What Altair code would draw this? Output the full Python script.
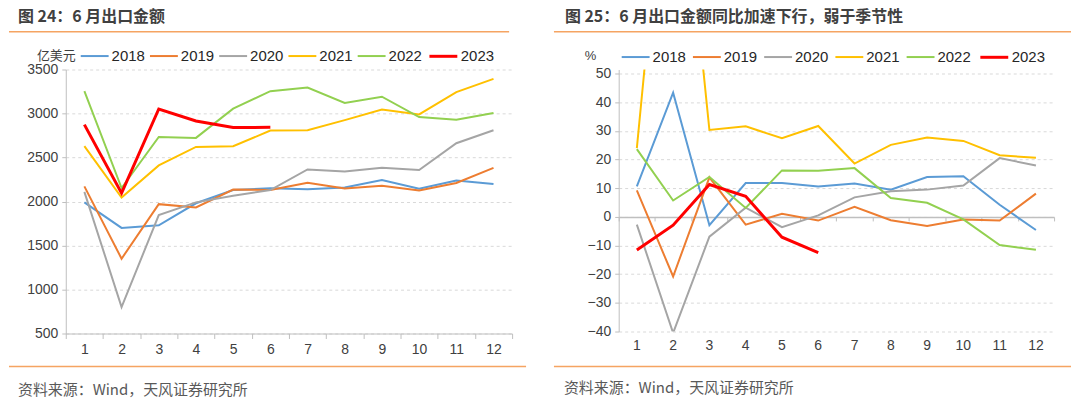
import altair as alt
import pandas as pd

months = list(range(1, 13))
years = ["2018", "2019", "2020", "2021", "2022", "2023"]
colors = ["#5B9BD5", "#ED7D31", "#A5A5A5", "#FFC000", "#92D050", "#FF0000"]
widths = [2, 2, 2, 2, 2, 3]

# 出口金额（亿美元）
amt_2018 = [1990, 1700, 1730, 1980, 2130, 2150, 2140, 2160, 2245, 2145, 2238, 2198]
amt_2019 = [2172, 1350, 1970, 1932, 2136, 2130, 2213, 2148, 2178, 2125, 2210, 2382]
amt_2020 = [2110, 800, 1845, 1990, 2065, 2130, 2364, 2341, 2383, 2357, 2662, 2809]
amt_2021 = [2630, 2045, 2410, 2620, 2628, 2806, 2810, 2925, 3044, 2990, 3243, 3394]
amt_2022 = [3254, 2153, 2734, 2723, 3055, 3254, 3296, 3119, 3191, 2960, 2930, 3005]
amt_2023 = [2874, 2095, 3051, 2915, 2840, 2843]

# 出口金额同比（%）
yoy_2018 = [10.6, 43.3, -2.9, 11.8, 11.8, 10.6, 11.6, 9.5, 13.9, 14.2, 4.2, -4.6]
yoy_2019 = [9.2, -20.8, 13.8, -2.7, 1.1, -1.3, 3.5, -1.2, -3.2, -0.9, -1.3, 8.1]
yoy_2020 = [-2.7, -40.5, -6.9, 3.2, -3.6, 0.5, 6.8, 8.9, 9.5, 10.9, 20.5, 17.9]
yoy_2021 = [24.0, 155.0, 30.3, 31.6, 27.4, 31.7, 18.6, 25.1, 27.7, 26.5, 21.5, 20.6]
yoy_2022 = [23.6, 5.7, 13.9, 3.1, 16.2, 16.1, 17.0, 6.6, 4.9, -0.9, -9.8, -11.5]
yoy_2023 = [-11.6, -2.9, 11.3, 7.2, -7.1, -12.5]

left_ticks = [500, 1000, 1500, 2000, 2500, 3000, 3500]
right_ticks = [-40, -30, -20, -10, 0, 10, 20, 30, 40, 50]

title_left = "图 24：6 月出口金额"
title_right = "图 25：6 月出口金额同比加速下行，弱于季节性"
source_text = "资料来源：Wind，天风证券研究所"


def to_long(series):
    rows = []
    for y, vals in zip(years, series):
        for m, v in zip(months, vals):
            rows.append({"month": m, "year": y, "value": v})
    return pd.DataFrame(rows)


df_amt = to_long([amt_2018, amt_2019, amt_2020, amt_2021, amt_2022, amt_2023])
df_yoy = to_long([yoy_2018, yoy_2019, yoy_2020, yoy_2021, yoy_2022, yoy_2023])

NUM_FONT = "Liberation Sans"
CJK_FONT = "Noto Sans CJK SC"
ORANGE = "#F5A462"
AXIS_GRAY = "#BFBFBF"
LABEL_COLOR = "#404040"

xscale = alt.Scale(type="band", paddingInner=0, paddingOuter=0)


def legend(lx, ly, pad):
    return alt.Legend(
        orient="none", direction="horizontal", legendX=lx, legendY=ly,
        title=None, symbolType="stroke", symbolSize=784, symbolStrokeWidth=2,
        labelFont=NUM_FONT, labelFontSize=15, labelColor="#262626",
        labelOffset=2, columnPadding=pad, padding=0,
    )


def yaxis(vals):
    return alt.Axis(
        values=vals, format="d", grid=True, gridDash=[3, 3], gridColor="#D9D9D9",
        domain=True, domainColor=AXIS_GRAY, ticks=True, tickColor=AXIS_GRAY,
        tickSize=4, labelFont=NUM_FONT, labelFontSize=14, labelColor=LABEL_COLOR,
        labelPadding=4, title=None,
    )


def text_layer(text, x, y, size, weight="normal", color=LABEL_COLOR, font=CJK_FONT):
    return alt.Chart(pd.DataFrame({"t": [text]})).mark_text(
        align="left", baseline="middle", font=font, fontSize=size,
        fontWeight=weight, color=color,
    ).encode(text="t:N", x=alt.value(x), y=alt.value(y))


def rule_layer(x1, x2, y):
    return alt.Chart(pd.DataFrame({"t": [0]})).mark_rule(
        color=ORANGE, strokeWidth=1.5
    ).encode(x=alt.value(x1), x2=alt.value(x2), y=alt.value(y))


# ---------------- left panel ----------------
LW, LH = 448, 265
left_lines = alt.Chart(df_amt).mark_line(clip=True).encode(
    x=alt.X("month:O", scale=xscale, axis=alt.Axis(
        tickBand="extent", ticks=True, tickSize=5, tickColor=AXIS_GRAY,
        domainColor=AXIS_GRAY, labelAngle=0, labelFont=NUM_FONT,
        labelFontSize=14, labelColor=LABEL_COLOR, labelPadding=4,
        title=None, grid=False)),
    y=alt.Y("value:Q", scale=alt.Scale(domain=[500, 3500], nice=False, zero=False),
            axis=yaxis(left_ticks)),
    color=alt.Color("year:N", scale=alt.Scale(domain=years, range=colors),
                    legend=legend(14, -29, 0.5)),
    strokeWidth=alt.StrokeWidth("year:N", scale=alt.Scale(type="ordinal", domain=years, range=widths),
                                legend=legend(14, -29, 0.5)),
)

left = alt.layer(
    left_lines,
    text_layer("亿美元", -29, -14, 13),
    text_layer(title_left, -48, -53, 16, weight="bold"),
    rule_layer(-57, 445, -38),
    rule_layer(-57, 462, 298),
    text_layer(source_text, -48, 322, 15, color="#595959"),
).properties(width=LW, height=LH)

# ---------------- right panel ----------------
RW, RH = 437, 263
RDOM = [-40, 51.4]
zero_off = -round(RH * 40 / (RDOM[1] - RDOM[0]))

right_lines = alt.Chart(df_yoy).mark_line(clip=True).encode(
    x=alt.X("month:O", scale=xscale, axis=alt.Axis(
        orient="bottom", domain=False, ticks=False, labelAngle=0,
        labelFont=NUM_FONT, labelFontSize=14, labelColor=LABEL_COLOR,
        labelPadding=7, title=None, grid=False)),
    y=alt.Y("value:Q", scale=alt.Scale(domain=RDOM, nice=False, zero=False),
            axis=yaxis(right_ticks)),
    color=alt.Color("year:N", scale=alt.Scale(domain=years, range=colors),
                    legend=legend(2, -28, 2.5)),
    strokeWidth=alt.StrokeWidth("year:N", scale=alt.Scale(type="ordinal", domain=years, range=widths),
                                legend=legend(2, -28, 2.5)),
)

right_zero = alt.Chart(df_yoy).mark_line(opacity=0, clip=True).encode(
    x=alt.X("month:O", scale=xscale, axis=alt.Axis(
        orient="bottom", offset=zero_off, domain=True, domainColor=AXIS_GRAY,
        domainWidth=1.5, ticks=True, tickBand="extent", tickSize=4,
        tickColor=AXIS_GRAY, labels=False, title=None, grid=False)),
    y=alt.Y("value:Q", scale=alt.Scale(domain=RDOM, nice=False, zero=False),
            axis=yaxis(right_ticks)),
    detail="year:N",
)

right = alt.layer(
    right_lines,
    right_zero,
    text_layer("%", -34, -14, 13, font=NUM_FONT),
    text_layer(title_right, -54, -53, 16, weight="bold"),
    rule_layer(-65, 454, -38),
    rule_layer(-65, 454, 298),
    text_layer(source_text, -55, 320, 15, color="#595959"),
).resolve_axis(x="independent").properties(width=RW, height=RH)

chart = alt.hconcat(left, right, spacing=26).resolve_scale(
    color="independent", strokeWidth="independent"
).properties(padding=0, background="white").configure_view(stroke=None)

chart.save("out.html", embed_options={"renderer": "svg", "actions": False})
